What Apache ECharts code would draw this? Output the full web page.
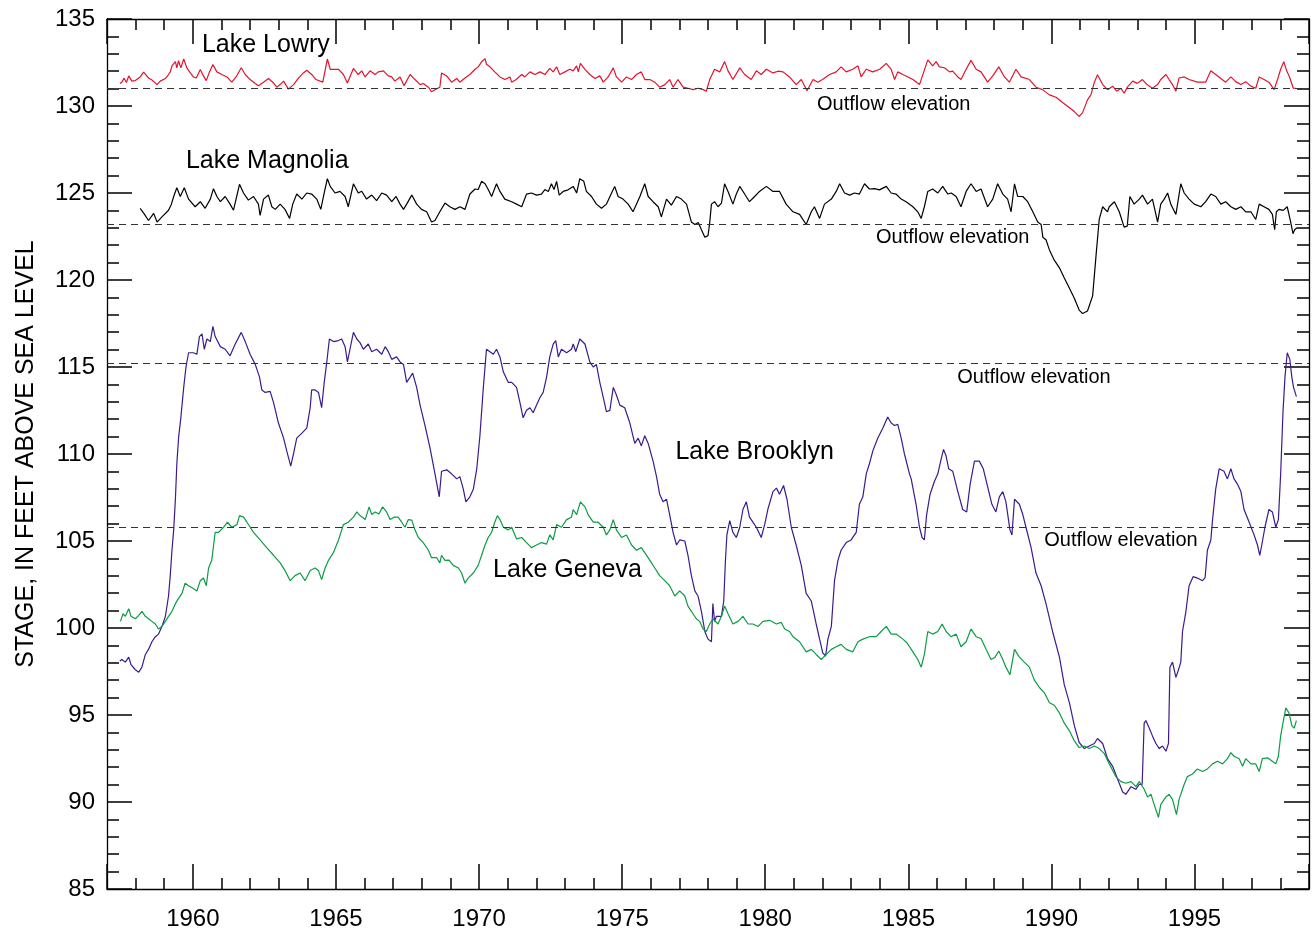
<!DOCTYPE html>
<html>
<head>
<meta charset="utf-8">
<script src="https://cdn.jsdelivr.net/npm/echarts@6/dist/echarts.min.js"></script>
<style>
  html, body { margin: 0; padding: 0; background: #fff; }
  #chart { width: 1314px; height: 931px; }
</style>
</head>
<body>
<div id="chart"></div>
<script>
// Lake stage records: [decimal year, stage in feet above sea level]
const lowry = [[1957.45,131.3],[1957.52,131.37],[1957.6,131.6],[1957.68,131.35],[1957.76,131.73],[1957.87,131.43],[1957.99,131.46],[1958.16,131.67],[1958.28,131.95],[1958.45,131.61],[1958.57,131.49],[1958.75,131.23],[1958.86,131.43],[1959.04,131.58],[1959.15,131.81],[1959.21,131.96],[1959.27,132.3],[1959.39,132.55],[1959.44,132.19],[1959.5,132.6],[1959.58,132.19],[1959.68,132.7],[1959.79,132.19],[1959.91,131.9],[1960.02,131.67],[1960.12,131.61],[1960.26,132.1],[1960.37,131.73],[1960.47,131.46],[1960.58,131.96],[1960.7,132.38],[1960.84,131.96],[1961.01,131.81],[1961.19,131.67],[1961.36,131.37],[1961.51,131.67],[1961.69,132.2],[1961.83,131.81],[1962.0,131.52],[1962.18,131.29],[1962.29,131.17],[1962.47,131.37],[1962.64,131.58],[1962.82,131.32],[1962.93,131.08],[1963.05,131.23],[1963.17,131.43],[1963.34,130.97],[1963.52,131.23],[1963.69,131.6],[1963.86,131.9],[1963.98,132.05],[1964.16,131.8],[1964.3,131.52],[1964.54,131.37],[1964.7,132.7],[1964.8,132.11],[1965.09,132.11],[1965.26,131.81],[1965.4,131.32],[1965.61,132.16],[1965.78,131.81],[1965.9,132.02],[1966.02,131.67],[1966.19,132.02],[1966.37,131.81],[1966.48,131.96],[1966.66,132.02],[1966.83,131.73],[1966.95,131.67],[1967.06,131.43],[1967.24,131.67],[1967.38,131.17],[1967.59,131.81],[1967.76,131.52],[1967.94,131.23],[1968.05,131.29],[1968.23,131.08],[1968.34,130.82],[1968.46,130.94],[1968.63,131.08],[1968.69,131.9],[1968.87,131.73],[1969.04,131.37],[1969.22,131.58],[1969.33,131.37],[1969.51,131.61],[1969.68,131.81],[1969.86,132.11],[1969.97,132.25],[1970.09,132.54],[1970.21,132.72],[1970.26,132.4],[1970.38,132.25],[1970.55,131.96],[1970.73,131.67],[1970.9,131.52],[1971.08,131.67],[1971.14,131.37],[1971.3,131.52],[1971.49,131.81],[1971.6,131.67],[1971.78,131.96],[1971.95,131.81],[1972.13,131.96],[1972.3,131.81],[1972.47,132.16],[1972.59,131.96],[1972.71,132.25],[1972.82,131.81],[1973.0,131.96],[1973.17,132.11],[1973.29,132.02],[1973.41,132.31],[1973.47,131.96],[1973.54,132.45],[1973.7,132.11],[1973.87,131.81],[1974.05,131.58],[1974.22,131.73],[1974.34,131.37],[1974.51,131.67],[1974.69,132.19],[1974.8,131.67],[1974.98,131.37],[1975.15,131.67],[1975.33,131.52],[1975.5,131.81],[1975.67,131.96],[1975.79,131.52],[1975.97,131.52],[1976.14,131.37],[1976.31,131.08],[1976.49,131.23],[1976.66,131.52],[1976.78,131.08],[1976.95,131.52],[1977.13,131.08],[1977.3,131.02],[1977.48,130.94],[1977.65,131.02],[1977.83,130.94],[1977.94,130.85],[1978.06,131.52],[1978.23,132.11],[1978.41,131.96],[1978.58,132.55],[1978.7,132.02],[1978.87,131.52],[1979.11,132.19],[1979.28,131.81],[1979.51,131.52],[1979.69,132.02],[1979.86,131.81],[1980.04,132.11],[1980.27,131.9],[1980.45,132.0],[1980.62,131.96],[1980.85,131.67],[1981.08,131.23],[1981.26,131.52],[1981.46,130.88],[1981.67,131.52],[1981.84,131.37],[1982.0,131.52],[1982.25,131.81],[1982.48,131.96],[1982.65,132.25],[1982.83,131.96],[1983.06,132.11],[1983.24,132.31],[1983.35,131.67],[1983.53,132.11],[1983.76,131.96],[1984.0,132.11],[1984.23,132.45],[1984.4,132.11],[1984.52,131.52],[1984.63,131.96],[1984.81,131.81],[1984.95,131.7],[1985.16,131.52],[1985.39,131.23],[1985.68,132.65],[1985.85,132.31],[1985.97,132.55],[1986.09,132.25],[1986.26,132.2],[1986.44,131.96],[1986.55,132.0],[1986.73,131.67],[1986.84,131.52],[1987.02,132.11],[1987.19,132.62],[1987.37,132.11],[1987.54,131.96],[1987.77,131.37],[1987.95,131.73],[1988.16,132.25],[1988.36,131.67],[1988.53,131.37],[1988.76,132.11],[1988.94,131.67],[1989.23,131.52],[1989.46,131.08],[1989.69,130.94],[1989.93,130.64],[1990.16,130.5],[1990.39,130.2],[1990.62,129.91],[1990.8,129.68],[1990.97,129.4],[1991.09,129.62],[1991.26,130.35],[1991.38,130.64],[1991.5,131.37],[1991.61,131.8],[1991.79,131.23],[1991.96,130.94],[1992.14,131.14],[1992.28,130.85],[1992.43,131.02],[1992.54,130.73],[1992.66,131.1],[1992.84,131.43],[1993.0,131.3],[1993.18,131.52],[1993.36,131.2],[1993.53,131.02],[1993.71,131.23],[1993.82,131.52],[1994.0,131.81],[1994.11,131.52],[1994.23,131.23],[1994.35,130.85],[1994.46,131.61],[1994.64,131.67],[1994.81,131.52],[1995.1,131.37],[1995.39,131.37],[1995.57,132.02],[1995.74,131.81],[1995.92,131.58],[1996.09,131.37],[1996.27,131.67],[1996.44,131.4],[1996.62,131.23],[1996.79,131.4],[1996.97,131.14],[1997.14,131.02],[1997.26,131.67],[1997.43,131.52],[1997.6,131.37],[1997.78,130.94],[1997.9,131.52],[1998.01,132.11],[1998.12,132.55],[1998.22,132.02],[1998.32,131.67],[1998.45,131.02],[1998.55,131.02]];

const magnolia = [[1958.16,124.12],[1958.3,123.8],[1958.45,123.42],[1958.63,123.83],[1958.75,123.33],[1958.92,123.63],[1959.15,124.01],[1959.25,124.36],[1959.33,124.8],[1959.44,125.3],[1959.56,124.8],[1959.7,125.3],[1959.85,124.65],[1960.08,124.21],[1960.26,124.5],[1960.43,124.12],[1960.61,124.65],[1960.72,125.25],[1960.84,124.8],[1960.96,124.5],[1961.13,124.8],[1961.3,124.36],[1961.42,124.01],[1961.63,125.5],[1961.77,125.0],[1961.94,124.59],[1962.12,124.8],[1962.29,124.36],[1962.35,123.71],[1962.47,124.65],[1962.64,124.88],[1962.76,124.21],[1962.88,124.06],[1963.05,124.36],[1963.22,124.06],[1963.38,123.54],[1963.49,124.36],[1963.63,124.94],[1963.81,124.65],[1963.98,125.0],[1964.15,124.94],[1964.33,124.65],[1964.47,124.06],[1964.62,125.23],[1964.7,125.82],[1964.8,125.38],[1964.97,125.0],[1965.14,125.09],[1965.32,124.8],[1965.43,124.21],[1965.61,125.53],[1965.78,125.0],[1965.9,125.1],[1966.07,124.65],[1966.25,124.88],[1966.42,124.56],[1966.6,125.0],[1966.77,124.88],[1966.95,124.5],[1967.1,124.8],[1967.24,124.36],[1967.36,124.06],[1967.47,124.36],[1967.65,124.88],[1967.82,124.36],[1967.99,124.06],[1968.17,123.92],[1968.34,123.33],[1968.46,123.42],[1968.63,123.92],[1968.81,124.42],[1968.98,124.21],[1969.16,124.06],[1969.33,124.21],[1969.51,124.06],[1969.68,124.94],[1969.86,125.23],[1969.97,125.2],[1970.09,125.67],[1970.21,125.53],[1970.32,125.2],[1970.44,124.8],[1970.61,125.53],[1970.73,125.09],[1970.9,124.65],[1971.14,124.5],[1971.31,124.36],[1971.49,124.21],[1971.66,124.94],[1971.83,125.0],[1972.01,124.88],[1972.18,124.94],[1972.3,125.2],[1972.42,125.09],[1972.53,125.53],[1972.62,125.2],[1972.71,125.67],[1972.8,124.88],[1972.94,125.09],[1973.11,125.18],[1973.29,125.38],[1973.41,125.0],[1973.52,125.82],[1973.66,125.67],[1973.75,125.09],[1973.93,124.8],[1974.1,124.36],[1974.28,124.12],[1974.45,124.36],[1974.63,125.0],[1974.74,125.38],[1974.86,124.8],[1975.03,124.65],[1975.21,124.36],[1975.38,123.92],[1975.5,124.36],[1975.62,124.8],[1975.79,125.53],[1975.91,124.8],[1976.08,124.5],[1976.26,124.21],[1976.37,123.63],[1976.55,124.65],[1976.72,124.3],[1976.9,124.8],[1977.07,124.65],[1977.25,124.36],[1977.42,123.33],[1977.54,123.19],[1977.66,123.3],[1977.77,122.89],[1977.89,122.46],[1978.0,122.55],[1978.06,123.3],[1978.12,124.36],[1978.23,124.5],[1978.35,124.21],[1978.47,124.42],[1978.58,125.53],[1978.7,125.09],[1978.87,124.36],[1978.99,124.94],[1979.11,125.38],[1979.28,124.94],[1979.45,124.5],[1979.63,124.8],[1979.8,125.09],[1980.04,125.38],[1980.27,125.09],[1980.5,125.09],[1980.73,124.36],[1980.97,123.92],[1981.2,123.77],[1981.43,123.19],[1981.61,123.92],[1981.72,124.21],[1981.9,123.54],[1982.07,124.36],[1982.31,124.65],[1982.48,125.09],[1982.6,125.53],[1982.77,125.0],[1982.95,124.88],[1983.12,125.0],[1983.29,124.94],[1983.47,125.53],[1983.64,125.23],[1983.82,125.25],[1983.99,125.18],[1984.23,125.38],[1984.4,125.0],[1984.57,124.94],[1984.75,124.65],[1984.92,124.5],[1985.16,124.21],[1985.33,123.92],[1985.45,123.54],[1985.56,124.21],[1985.68,125.09],[1985.85,125.23],[1986.03,125.0],[1986.2,125.38],[1986.38,124.94],[1986.5,125.0],[1986.67,124.8],[1986.84,124.21],[1987.02,125.09],[1987.19,125.53],[1987.37,125.09],[1987.54,125.23],[1987.77,124.21],[1987.95,124.65],[1988.12,125.53],[1988.3,124.94],[1988.47,124.65],[1988.59,123.92],[1988.71,125.53],[1988.82,124.8],[1989.0,124.8],[1989.17,124.5],[1989.35,123.92],[1989.52,123.33],[1989.64,123.19],[1989.7,122.46],[1989.81,122.31],[1989.93,121.73],[1990.1,121.14],[1990.28,120.7],[1990.45,120.12],[1990.63,119.53],[1990.8,118.95],[1990.97,118.27],[1991.09,118.07],[1991.26,118.22],[1991.44,119.09],[1991.56,121.43],[1991.67,123.48],[1991.79,124.21],[1991.96,123.92],[1992.02,124.21],[1992.2,124.5],[1992.37,123.92],[1992.54,123.04],[1992.65,123.1],[1992.74,124.8],[1992.89,124.36],[1993.07,124.65],[1993.18,124.88],[1993.36,124.36],[1993.53,124.65],[1993.71,123.33],[1993.82,124.36],[1993.94,124.65],[1994.06,125.0],[1994.17,124.36],[1994.35,123.77],[1994.52,125.53],[1994.64,125.0],[1994.81,124.65],[1994.99,124.36],[1995.22,124.21],[1995.39,124.5],[1995.57,124.94],[1995.74,124.8],[1995.92,124.36],[1996.09,124.5],[1996.27,124.21],[1996.44,124.06],[1996.62,124.21],[1996.79,123.92],[1996.97,123.92],[1997.14,123.48],[1997.26,124.36],[1997.43,124.21],[1997.6,124.06],[1997.72,123.77],[1997.8,122.89],[1997.86,123.92],[1997.95,124.06],[1998.1,124.0],[1998.24,124.21],[1998.36,123.33],[1998.44,122.66],[1998.5,122.89],[1998.58,123.0]];

const brooklyn = [[1957.45,98.1],[1957.52,98.19],[1957.64,98.04],[1957.76,98.33],[1957.84,97.89],[1957.99,97.6],[1958.11,97.46],[1958.22,97.75],[1958.34,98.48],[1958.45,98.77],[1958.57,99.21],[1958.69,99.5],[1958.8,99.65],[1958.92,100.09],[1959.04,100.67],[1959.15,101.84],[1959.21,103.01],[1959.27,104.47],[1959.33,105.64],[1959.39,107.4],[1959.44,109.44],[1959.5,110.91],[1959.58,112.08],[1959.68,113.83],[1959.76,115.0],[1959.85,115.82],[1960.02,115.82],[1960.14,115.73],[1960.23,116.75],[1960.32,116.9],[1960.4,116.02],[1960.49,116.61],[1960.61,116.46],[1960.7,117.34],[1960.78,116.75],[1960.96,116.17],[1961.13,116.02],[1961.3,115.64],[1961.48,116.32],[1961.69,116.99],[1961.83,116.46],[1962.0,115.73],[1962.18,115.15],[1962.33,114.42],[1962.41,113.68],[1962.53,113.54],[1962.7,113.6],[1962.82,112.95],[1962.99,111.78],[1963.17,110.91],[1963.28,110.18],[1963.42,109.3],[1963.52,110.03],[1963.63,110.91],[1963.81,111.2],[1963.98,111.49],[1964.1,112.66],[1964.15,113.68],[1964.27,113.68],[1964.39,113.54],[1964.5,112.66],[1964.59,114.12],[1964.68,115.29],[1964.77,116.61],[1964.91,116.46],[1965.09,116.52],[1965.2,116.61],[1965.32,116.17],[1965.4,115.29],[1965.49,116.02],[1965.61,116.99],[1965.73,116.61],[1965.84,116.4],[1965.96,116.02],[1966.13,116.32],[1966.25,115.88],[1966.42,116.02],[1966.6,115.73],[1966.72,116.17],[1966.83,115.88],[1966.95,115.44],[1967.12,115.58],[1967.24,115.29],[1967.36,115.15],[1967.47,114.12],[1967.59,114.42],[1967.68,114.65],[1967.82,113.83],[1967.94,112.81],[1968.11,111.64],[1968.29,110.32],[1968.46,108.86],[1968.61,107.54],[1968.69,109.01],[1968.87,109.09],[1969.04,108.86],[1969.22,108.57],[1969.33,108.7],[1969.45,107.98],[1969.54,107.25],[1969.68,107.54],[1969.8,107.98],[1969.92,109.15],[1970.03,111.05],[1970.15,113.83],[1970.26,116.02],[1970.38,115.88],[1970.5,115.73],[1970.61,116.02],[1970.73,115.58],[1970.85,114.71],[1971.02,114.12],[1971.14,114.12],[1971.31,113.83],[1971.43,112.95],[1971.54,112.08],[1971.66,112.51],[1971.78,112.66],[1971.89,112.37],[1972.01,112.81],[1972.13,113.25],[1972.24,113.54],[1972.36,114.42],[1972.47,115.58],[1972.59,116.32],[1972.68,116.52],[1972.77,115.58],[1972.88,116.02],[1973.06,115.82],[1973.23,116.02],[1973.29,116.32],[1973.38,115.88],[1973.52,116.61],[1973.7,116.32],[1973.87,115.29],[1973.99,115.0],[1974.1,115.15],[1974.22,114.12],[1974.34,113.25],[1974.45,112.43],[1974.57,112.51],[1974.69,113.83],[1974.8,113.39],[1974.92,112.81],[1975.09,112.66],[1975.27,111.78],[1975.44,110.61],[1975.56,110.91],[1975.67,110.47],[1975.79,111.05],[1975.91,110.61],[1976.08,109.59],[1976.2,108.71],[1976.31,107.69],[1976.43,107.25],[1976.55,107.4],[1976.66,106.52],[1976.78,105.5],[1976.9,104.77],[1977.01,105.06],[1977.19,105.0],[1977.3,104.18],[1977.42,103.01],[1977.54,102.13],[1977.65,101.84],[1977.77,100.96],[1977.89,99.8],[1978.0,99.36],[1978.12,99.21],[1978.17,101.4],[1978.23,100.38],[1978.29,100.67],[1978.47,100.67],[1978.55,101.55],[1978.61,103.89],[1978.66,105.35],[1978.76,106.17],[1978.87,105.5],[1978.99,105.2],[1979.11,105.79],[1979.22,106.81],[1979.34,107.25],[1979.45,106.37],[1979.57,106.08],[1979.69,105.79],[1979.86,105.2],[1979.98,105.94],[1980.09,106.81],[1980.27,107.84],[1980.39,108.04],[1980.5,107.69],[1980.64,108.19],[1980.76,107.4],[1980.91,105.79],[1981.08,104.77],[1981.26,103.6],[1981.43,101.99],[1981.61,101.55],[1981.78,100.23],[1981.9,99.36],[1982.01,98.57],[1982.11,98.39],[1982.19,99.36],[1982.31,100.09],[1982.42,102.72],[1982.54,103.89],[1982.65,104.47],[1982.83,104.91],[1983.0,105.06],[1983.18,105.5],[1983.29,107.11],[1983.41,107.54],[1983.53,108.86],[1983.64,109.44],[1983.76,110.18],[1983.93,110.91],[1984.11,111.49],[1984.28,112.13],[1984.4,111.78],[1984.52,111.64],[1984.63,111.7],[1984.75,110.91],[1984.86,110.03],[1985.04,108.86],[1985.1,108.57],[1985.27,107.11],[1985.39,105.79],[1985.48,105.2],[1985.56,105.06],[1985.64,106.52],[1985.76,107.69],[1985.91,108.42],[1986.03,108.86],[1986.15,109.74],[1986.23,110.26],[1986.32,109.88],[1986.41,109.15],[1986.55,109.01],[1986.73,107.84],[1986.9,106.81],[1987.04,106.67],[1987.16,108.27],[1987.31,109.59],[1987.48,109.59],[1987.62,109.15],[1987.77,108.13],[1987.92,107.11],[1988.06,106.67],[1988.18,107.54],[1988.3,107.84],[1988.41,107.25],[1988.55,105.64],[1988.62,105.35],[1988.71,107.4],[1988.88,107.11],[1989.0,106.52],[1989.11,105.79],[1989.29,104.62],[1989.46,103.16],[1989.64,102.43],[1989.81,101.4],[1990.04,99.8],[1990.28,98.33],[1990.45,96.73],[1990.63,95.7],[1990.8,94.39],[1990.97,93.42],[1991.15,93.07],[1991.32,93.22],[1991.5,93.36],[1991.61,93.65],[1991.79,93.36],[1991.96,92.49],[1992.14,92.05],[1992.31,91.32],[1992.49,90.58],[1992.6,90.44],[1992.78,90.88],[1992.95,90.73],[1993.07,91.02],[1993.17,91.0],[1993.24,94.53],[1993.3,94.68],[1993.42,94.24],[1993.53,93.8],[1993.65,93.36],[1993.77,93.07],[1993.88,93.22],[1994.0,92.92],[1994.09,93.36],[1994.14,97.75],[1994.23,98.04],[1994.35,97.16],[1994.44,97.6],[1994.52,98.04],[1994.58,99.8],[1994.7,100.96],[1994.81,102.43],[1994.95,102.95],[1995.1,102.87],[1995.28,102.72],[1995.37,102.9],[1995.45,104.47],[1995.57,105.06],[1995.63,106.23],[1995.74,107.98],[1995.86,109.15],[1996.03,109.01],[1996.15,108.57],[1996.27,109.15],[1996.38,108.57],[1996.5,108.27],[1996.62,107.84],[1996.73,106.81],[1996.91,106.08],[1997.08,105.35],[1997.2,104.77],[1997.28,104.18],[1997.35,104.77],[1997.46,105.79],[1997.6,106.81],[1997.72,106.67],[1997.84,105.79],[1997.93,106.23],[1998.01,108.86],[1998.09,112.37],[1998.16,114.42],[1998.24,115.82],[1998.33,115.44],[1998.4,114.42],[1998.46,113.83],[1998.56,113.3]];

const geneva = [[1957.47,100.38],[1957.56,100.82],[1957.64,100.67],[1957.76,101.11],[1957.84,100.67],[1957.99,100.53],[1958.11,100.73],[1958.22,100.96],[1958.34,100.67],[1958.45,100.53],[1958.57,100.38],[1958.69,100.23],[1958.8,99.94],[1958.92,100.09],[1959.04,100.38],[1959.15,100.67],[1959.27,100.96],[1959.39,101.4],[1959.5,101.7],[1959.62,101.99],[1959.73,102.57],[1959.85,102.43],[1960.0,102.28],[1960.14,102.13],[1960.26,102.72],[1960.37,102.87],[1960.47,102.43],[1960.55,103.45],[1960.66,103.89],[1960.78,105.5],[1960.9,105.5],[1961.07,105.79],[1961.21,106.08],[1961.36,105.79],[1961.54,105.94],[1961.63,106.46],[1961.77,106.37],[1961.89,106.08],[1962.12,105.5],[1962.35,105.06],[1962.58,104.62],[1962.82,104.18],[1963.05,103.74],[1963.22,103.3],[1963.4,102.72],[1963.57,103.01],[1963.75,103.16],[1963.92,102.72],[1964.1,103.3],[1964.27,103.45],[1964.39,103.3],[1964.5,102.78],[1964.62,103.45],[1964.74,103.89],[1964.91,104.33],[1965.09,105.06],[1965.26,105.94],[1965.43,106.08],[1965.61,106.37],[1965.73,106.67],[1965.84,106.46],[1966.02,106.23],[1966.16,106.96],[1966.25,106.52],[1966.37,106.67],[1966.5,106.55],[1966.63,106.96],[1966.77,106.67],[1966.89,106.23],[1967.03,106.37],[1967.17,106.37],[1967.3,106.08],[1967.41,105.79],[1967.53,106.23],[1967.65,106.2],[1967.76,105.64],[1967.88,105.2],[1968.05,104.91],[1968.23,104.47],[1968.34,104.04],[1968.52,104.04],[1968.63,103.74],[1968.69,104.18],[1968.81,103.89],[1968.95,103.9],[1969.1,103.6],[1969.28,103.45],[1969.39,103.16],[1969.51,102.57],[1969.62,102.87],[1969.8,103.16],[1969.97,103.6],[1970.09,104.18],[1970.21,104.77],[1970.32,105.2],[1970.44,105.5],[1970.55,106.08],[1970.64,106.46],[1970.73,106.23],[1970.85,105.79],[1971.02,105.64],[1971.14,105.79],[1971.31,105.12],[1971.49,105.2],[1971.66,104.91],[1971.83,104.62],[1972.01,104.77],[1972.18,104.91],[1972.36,104.82],[1972.47,105.35],[1972.59,105.06],[1972.71,105.94],[1972.88,105.79],[1973.06,106.23],[1973.23,106.37],[1973.29,106.81],[1973.41,106.52],[1973.54,107.25],[1973.7,106.96],[1973.81,106.52],[1973.99,106.08],[1974.16,106.08],[1974.34,105.79],[1974.45,105.35],[1974.57,105.64],[1974.69,106.23],[1974.8,105.64],[1974.98,105.2],[1975.15,105.35],[1975.33,104.77],[1975.5,104.47],[1975.67,104.62],[1975.79,104.33],[1975.97,103.89],[1976.14,103.45],[1976.31,103.01],[1976.49,102.72],[1976.66,102.43],[1976.84,101.84],[1977.01,102.13],[1977.19,101.84],[1977.3,101.26],[1977.42,100.96],[1977.59,100.53],[1977.71,100.38],[1977.83,99.94],[1977.94,99.8],[1978.06,100.23],[1978.17,100.53],[1978.35,100.23],[1978.47,100.67],[1978.58,101.26],[1978.7,100.82],[1978.87,100.23],[1979.05,100.38],[1979.22,100.67],[1979.4,100.23],[1979.57,100.23],[1979.75,100.09],[1979.92,100.38],[1980.15,100.44],[1980.39,100.23],[1980.56,100.32],[1980.68,99.94],[1980.85,99.8],[1980.97,99.5],[1981.2,99.21],[1981.43,98.63],[1981.61,98.77],[1981.78,98.48],[1981.96,98.19],[1982.13,98.48],[1982.31,98.77],[1982.48,98.92],[1982.65,99.06],[1982.83,98.77],[1983.06,98.63],[1983.24,99.21],[1983.41,99.36],[1983.64,99.5],[1983.88,99.5],[1984.05,99.8],[1984.23,100.09],[1984.4,99.65],[1984.57,99.65],[1984.81,99.36],[1984.95,99.15],[1985.16,98.63],[1985.33,98.19],[1985.45,97.75],[1985.56,98.48],[1985.68,99.8],[1985.85,99.65],[1986.03,99.8],[1986.18,100.23],[1986.32,99.8],[1986.49,99.5],[1986.67,99.65],[1986.84,98.92],[1987.02,99.21],[1987.19,99.94],[1987.37,99.5],[1987.54,99.4],[1987.72,98.77],[1987.89,98.19],[1988.02,98.3],[1988.16,98.68],[1988.3,98.19],[1988.41,97.75],[1988.55,97.31],[1988.71,98.77],[1988.88,98.33],[1989.05,98.04],[1989.23,97.75],[1989.4,97.02],[1989.58,96.58],[1989.75,96.29],[1989.93,95.7],[1990.1,95.56],[1990.28,95.12],[1990.45,94.53],[1990.63,94.09],[1990.8,93.51],[1990.97,93.13],[1991.15,93.22],[1991.32,93.07],[1991.5,93.22],[1991.67,93.07],[1991.85,92.78],[1992.02,92.19],[1992.25,91.46],[1992.43,91.17],[1992.6,91.08],[1992.78,91.17],[1992.95,90.88],[1993.07,91.17],[1993.24,90.73],[1993.36,90.29],[1993.48,90.44],[1993.59,89.85],[1993.74,89.12],[1993.82,89.85],[1994.0,90.29],[1994.11,90.44],[1994.23,90.15],[1994.37,89.27],[1994.46,90.15],[1994.64,91.02],[1994.75,91.46],[1994.93,91.61],[1995.1,91.9],[1995.28,91.75],[1995.45,91.9],[1995.63,92.19],[1995.8,92.34],[1995.98,92.19],[1996.15,92.49],[1996.27,92.84],[1996.38,92.63],[1996.56,92.49],[1996.68,92.05],[1996.79,92.49],[1996.97,92.19],[1997.14,92.19],[1997.26,91.75],[1997.37,92.49],[1997.55,92.54],[1997.72,92.34],[1997.84,92.19],[1997.93,92.63],[1998.01,93.8],[1998.09,94.53],[1998.19,95.41],[1998.3,95.12],[1998.4,94.39],[1998.48,94.24],[1998.56,94.68]];

const lakeNames = ['Lake Lowry', 'Lake Magnolia', 'Lake Brooklyn', 'Lake Geneva'];
const outflowElevations = [131.0, 123.2, 115.2, 105.8];
const outflowLabel = 'Outflow elevation';
const yAxisTitle = 'STAGE, IN FEET ABOVE SEA LEVEL';

// Styling and label placement (data coordinates) per lake
const FONT = '"Liberation Sans", Arial, Helvetica, sans-serif';
const lakeStyle = [
  { data: lowry,    color: '#e3132f', nameAt: [1962.55, 133.5],  outflowAt: [1984.49, 130.08] },
  { data: magnolia, color: '#000000', nameAt: [1962.6, 126.84],  outflowAt: [1986.55, 122.46] },
  { data: brooklyn, color: '#3c1a8e', nameAt: [1979.63, 110.08], outflowAt: [1989.39, 114.42] },
  { data: geneva,   color: '#0c9c45', nameAt: [1973.09, 103.3],  outflowAt: [1992.43, 105.04] }
];

const tickLine = { color: '#000', width: 1.5 };

function xAxis(position, showLabels) {
  return {
    type: 'value', position, min: 1957, max: 1999,
    splitNumber: 8, minInterval: 5, maxInterval: 5,
    axisLine: { show: true, onZero: false, lineStyle: { color: '#000', width: 1.3 } },
    axisTick: { show: true, inside: true, length: 25, lineStyle: tickLine },
    minorTick: { show: true, splitNumber: 5, length: 11, lineStyle: tickLine },
    splitLine: { show: false }, minorSplitLine: { show: false },
    axisLabel: {
      show: showLabels, color: '#000', fontSize: 24, fontFamily: FONT, margin: 18,
      formatter: v => (v % 5 === 0 ? String(v) : '')
    }
  };
}

function yAxis(position, showLabels) {
  const ax = {
    type: 'value', position, min: 85, max: 135, interval: 5,
    axisLine: { show: true, onZero: false, lineStyle: { color: '#000', width: 1.3 } },
    axisTick: { show: true, inside: true, length: 25, lineStyle: tickLine },
    minorTick: { show: true, splitNumber: 5, length: 12, lineStyle: tickLine },
    splitLine: { show: false }, minorSplitLine: { show: false },
    axisLabel: { show: showLabels, color: '#000', fontSize: 24, fontFamily: FONT, margin: 12 }
  };
  if (showLabels) {
    Object.assign(ax, {
      name: yAxisTitle, nameLocation: 'middle', nameGap: 68, nameRotate: 90,
      nameTextStyle: { color: '#000', fontSize: 25, fontFamily: FONT }
    });
  }
  return ax;
}

const series = lakeStyle.map((s, i) => ({
  name: lakeNames[i],
  type: 'line',
  data: s.data,
  showSymbol: false,
  symbol: 'none',
  lineStyle: { color: s.color, width: 1.2 },
  z: 3,
  markLine: {
    silent: true, symbol: ['none', 'none'], label: { show: false },
    lineStyle: { color: '#333', width: 1.2, type: [7, 5] },
    data: [{ yAxis: outflowElevations[i] }]
  },
  markPoint: {
    silent: true, symbol: 'circle', symbolSize: 0,
    label: { show: true, position: 'inside', color: '#000', fontFamily: FONT, formatter: '{b}' },
    data: [
      { name: lakeNames[i], coord: s.nameAt, label: { fontSize: 25 } },
      { name: outflowLabel, coord: s.outflowAt, label: { fontSize: 20 } }
    ]
  }
}));

const chart = echarts.init(document.getElementById('chart'), null, { renderer: 'canvas' });
chart.setOption({
  animation: false,
  backgroundColor: '#fff',
  grid: { left: 107, right: 5, top: 19, bottom: 42, containLabel: false },
  xAxis: [xAxis('bottom', true), xAxis('top', false)],
  yAxis: [yAxis('left', true), yAxis('right', false)],
  series
});
</script>
</body>
</html>
